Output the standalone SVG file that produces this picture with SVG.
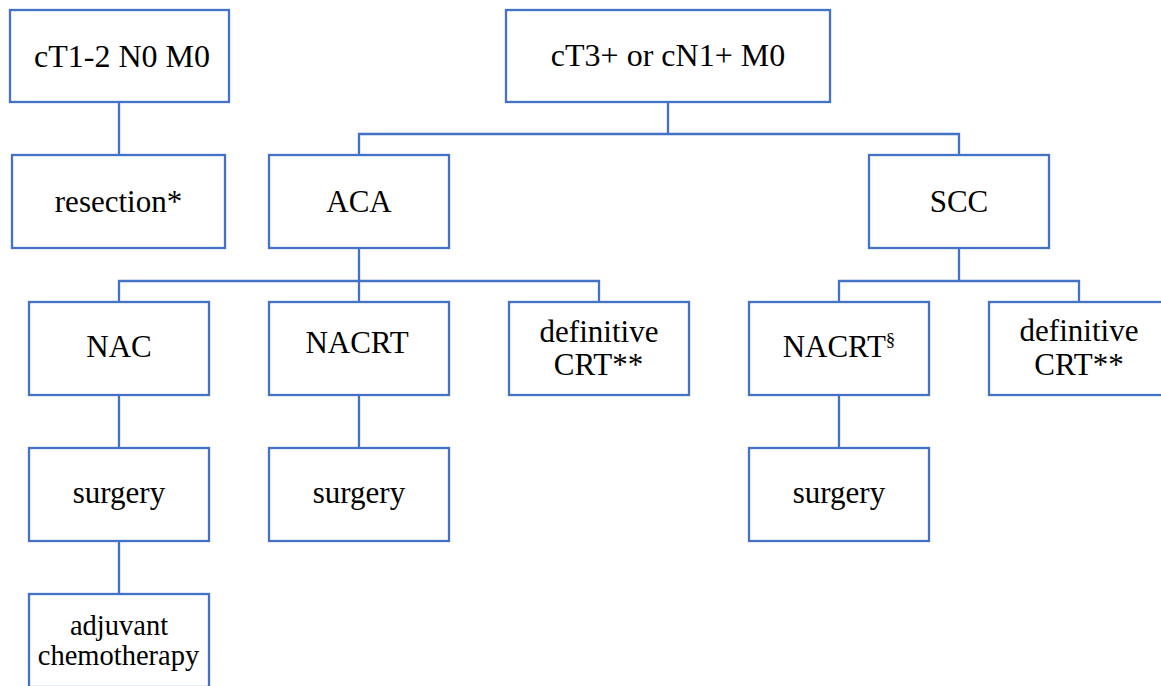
<svg xmlns="http://www.w3.org/2000/svg" width="1161" height="686" viewBox="0 0 1161 686">
<style>
.box{fill:#fff;stroke:#4472C4;stroke-width:2.3}
.conn{fill:none;stroke:#4472C4;stroke-width:2.3}
.t{font-family:"Liberation Serif","DejaVu Serif","Noto Serif",serif;font-size:31px;fill:#000;text-anchor:middle}
.big{font-size:32px}
.sm{font-size:28.5px}
</style>
<rect width="1161" height="686" fill="#fff"/>
<g id="connectors">
<path class="conn" d="M119,102 V155"/>
<path class="conn" d="M668,102 V134 M359,155 V134 H959 V155"/>
<path class="conn" d="M359,248 V281 M119,302 V281 H599 V302 M359,281 V302"/>
<path class="conn" d="M959,248 V281 M839,302 V281 H1079 V302"/>
<path class="conn" d="M119,395 V448 M359,395 V448 M839,395 V448 M119,541 V594"/>
</g>
<g id="n_ct12"><rect class="box" x="10" y="10" width="219" height="92"/><text class="t big" x="122" y="67">cT1-2 N0 M0</text></g>
<g id="n_ct3"><rect class="box" x="506" y="10" width="324" height="92"/><text class="t big" x="668" y="66">cT3+ or cN1+ M0</text></g>
<g id="n_resection"><rect class="box" x="12" y="155" width="213" height="93"/><text class="t" x="118.5" y="212">resection*</text></g>
<g id="n_aca"><rect class="box" x="269" y="155" width="180" height="93"/><text class="t" x="359" y="212">ACA</text></g>
<g id="n_scc"><rect class="box" x="869" y="155" width="180" height="93"/><text class="t" x="959" y="212">SCC</text></g>
<g id="n_nac"><rect class="box" x="29" y="302" width="180" height="93"/><text class="t" x="119" y="357">NAC</text></g>
<g id="n_nacrt"><rect class="box" x="269" y="302" width="180" height="93"/><text class="t" x="357" y="353">NACRT</text></g>
<g id="n_defcrt1"><rect class="box" x="509" y="302" width="180" height="93"/><text class="t" x="599" y="341.5">definitive</text><text class="t" x="598.5" y="375">CRT**</text></g>
<g id="n_nacrt_scc"><rect class="box" x="749" y="302" width="180" height="93"/><text class="t" x="839" y="357">NACRT<tspan font-size="19" dy="-11">§</tspan></text></g>
<g id="n_defcrt2"><rect class="box" x="989" y="302" width="180" height="93"/><text class="t" x="1079" y="341">definitive</text><text class="t" x="1079" y="375">CRT**</text></g>
<g id="n_surgery1"><rect class="box" x="29" y="448" width="180" height="93"/><text class="t" x="119" y="502.5">surgery</text></g>
<g id="n_surgery2"><rect class="box" x="269" y="448" width="180" height="93"/><text class="t" x="359" y="502.5">surgery</text></g>
<g id="n_surgery3"><rect class="box" x="749" y="448" width="180" height="93"/><text class="t" x="839" y="503">surgery</text></g>
<g id="n_adjuvant"><rect class="box" x="29" y="594" width="180" height="93"/><text class="t sm" x="119" y="635">adjuvant</text><text class="t sm" x="118.5" y="665">chemotherapy</text></g>
</svg>
